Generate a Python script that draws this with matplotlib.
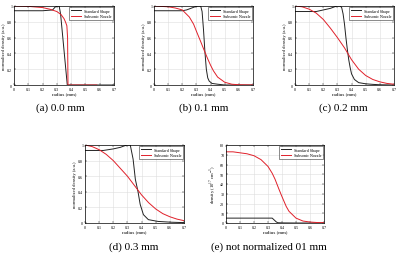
import matplotlib
matplotlib.use("Agg")
import matplotlib.pyplot as plt

plt.rcParams['font.family'] = ['Liberation Serif', 'DejaVu Serif']
plt.rcParams['mathtext.fontset'] = 'stix'

# ---- data ----
radius_ticks = [0, 0.1, 0.2, 0.3, 0.4, 0.5, 0.6, 0.7]
norm_ticks = [0, 0.2, 0.4, 0.6, 0.8, 1]
dens_ticks = [0, 10, 20, 30, 40, 50, 60, 70, 80]
series_names = ["Standard Shape", "Subsonic Nozzle"]

black_a_r = [0, 0.1, 0.2, 0.27, 0.29, 0.31, 0.316, 0.326, 0.373, 0.4, 0.5, 0.6, 0.7]
black_a = [0.94, 0.94, 0.94, 0.95, 0.99, 1.0, 1.0, 0.9, 0.0, 0, 0, 0, 0]
red_a_r = [0, 0.1, 0.2, 0.25, 0.3, 0.33, 0.35, 0.36, 0.37, 0.375, 0.378, 0.4, 0.5, 0.58]
red_a = [1.0, 0.995, 0.98, 0.96, 0.93, 0.89, 0.84, 0.8, 0.75, 0.6, 0.0, 0, 0, 0]

black_b_r = [0, 0.2, 0.23, 0.26, 0.29, 0.31, 0.33, 0.34, 0.35, 0.36, 0.37, 0.38, 0.39, 0.41, 0.45, 0.5, 0.7]
black_b = [0.94, 0.94, 0.95, 0.97, 0.99, 1.0, 1.0, 0.93, 0.7, 0.42, 0.2, 0.09, 0.05, 0.02, 0.01, 0, 0]
red_b_r = [0, 0.1, 0.15, 0.2, 0.25, 0.28, 0.3, 0.33, 0.35, 0.38, 0.4, 0.42, 0.45, 0.5, 0.55, 0.6, 0.7]
red_b = [1.0, 0.99, 0.975, 0.95, 0.86, 0.77, 0.68, 0.55, 0.46, 0.33, 0.25, 0.18, 0.1, 0.035, 0.01, 0.003, 0]

black_c_r = [0, 0.15, 0.2, 0.25, 0.28, 0.3, 0.32, 0.33, 0.34, 0.35, 0.36, 0.37, 0.38, 0.39, 0.4, 0.42, 0.45, 0.5, 0.55, 0.6, 0.7]
black_c = [0.93, 0.93, 0.95, 0.97, 0.99, 1.0, 1.0, 0.98, 0.9, 0.77, 0.6, 0.45, 0.32, 0.22, 0.14, 0.07, 0.03, 0.015, 0.008, 0.003, 0]
red_c_r = [0, 0.05, 0.1, 0.15, 0.2, 0.25, 0.3, 0.35, 0.4, 0.45, 0.5, 0.55, 0.6, 0.65, 0.7]
red_c = [1.0, 0.99, 0.96, 0.91, 0.83, 0.72, 0.6, 0.47, 0.32, 0.2, 0.12, 0.07, 0.04, 0.02, 0.01]

black_d_r = [0, 0.1, 0.13, 0.2, 0.25, 0.28, 0.3, 0.32, 0.34, 0.356, 0.375, 0.39, 0.413, 0.448, 0.517, 0.61, 0.7]
black_d = [0.93, 0.93, 0.93, 0.95, 0.97, 0.99, 1.0, 1.0, 0.82, 0.56, 0.4, 0.24, 0.107, 0.043, 0.02, 0.01, 0.005]
red_d_r = [0, 0.05, 0.1, 0.15, 0.2, 0.25, 0.3, 0.35, 0.4, 0.45, 0.5, 0.55, 0.6, 0.65, 0.7]
red_d = [1.0, 0.98, 0.94, 0.88, 0.8, 0.7, 0.6, 0.48, 0.36, 0.26, 0.18, 0.12, 0.08, 0.05, 0.03]

black_e_r = [0, 0.1, 0.2, 0.3, 0.33, 0.345, 0.36, 0.37, 0.4, 0.5, 0.7]
black_e = [5, 5, 5, 5, 5, 3, 1, 0.3, 0.1, 0, 0]
red_e_r = [0, 0.05, 0.1, 0.15, 0.2, 0.25, 0.3, 0.33, 0.35, 0.38, 0.4, 0.43, 0.45, 0.5, 0.55, 0.6, 0.65, 0.7]
red_e = [73, 73, 72, 71, 69, 65, 58, 51, 45, 34, 27, 17, 12, 5, 2, 1, 0.5, 0.3]

captions = ["(a) 0.0 mm", "(b) 0.1 mm", "(c) 0.2 mm", "(d) 0.3 mm", "(e) not normalized 01 mm"]

W, H = 403, 255
fig = plt.figure(figsize=(W / 100, H / 100), dpi=100)

# axes boxes in pixels: left, top, right, bottom
boxes = [(14, 7, 114, 86), (154, 7, 253, 86), (295, 7, 394, 86),
         (85, 146, 184, 224), (226, 146, 324, 224)]
cap_pos = [(60, 108), (204, 108), (343, 108), (134, 247), (269, 247)]

panels = [
    (black_a_r, black_a, red_a_r, red_a, False),
    (black_b_r, black_b, red_b_r, red_b, False),
    (black_c_r, black_c, red_c_r, red_c, False),
    (black_d_r, black_d, red_d_r, red_d, False),
    (black_e_r, black_e, red_e_r, red_e, True),
]

for (l, t, r, b), (bx, by, rx, ry, raw), cap, (cx, cy) in zip(boxes, panels, captions, cap_pos):
    ax = fig.add_axes([l / W, 1 - b / H, (r - l) / W, (b - t) / H])
    ax.plot(bx, by, color='#222222', lw=0.7, label=series_names[0])
    ax.plot(rx, ry, color='#e0202a', lw=0.7, label=series_names[1])
    ax.set_xlim(0, 0.7)
    ax.set_xticks(radius_ticks)
    ax.set_xticklabels([f"{v:g}" for v in radius_ticks])
    if raw:
        ax.set_ylim(0, 80)
        ax.set_yticks(dens_ticks)
        ax.set_ylabel("density (10$^{17}$ cm$^{-3}$)", fontsize=3.3, labelpad=1)
    else:
        ax.set_ylim(0, 1)
        ax.set_yticks(norm_ticks)
        ax.set_yticklabels([f"{v:g}" for v in norm_ticks])
        ax.set_ylabel("normalized density (a.u.)", fontsize=3.3, labelpad=1)
    ax.set_xlabel("radius (mm)", fontsize=3.6, labelpad=0.5)
    ax.grid(True, color='#dddddd', lw=0.4)
    ax.set_axisbelow(True)
    ax.tick_params(direction='in', length=1.2, width=0.3, labelsize=3, pad=1.2,
                   top=True, right=True)
    for s in ax.spines.values():
        s.set_linewidth(0.5)
    leg = ax.legend(loc='upper right', fontsize=3, frameon=True, fancybox=False,
                    handlelength=2.5, borderpad=0.4, labelspacing=0.25,
                    borderaxespad=0.3, handletextpad=0.6)
    leg.get_frame().set_edgecolor('black')
    leg.get_frame().set_linewidth(0.4)
    fig.text(cx / W, 1 - cy / H, cap, ha='center', va='center', fontsize=8)

fig.savefig("out.png", dpi=100)
